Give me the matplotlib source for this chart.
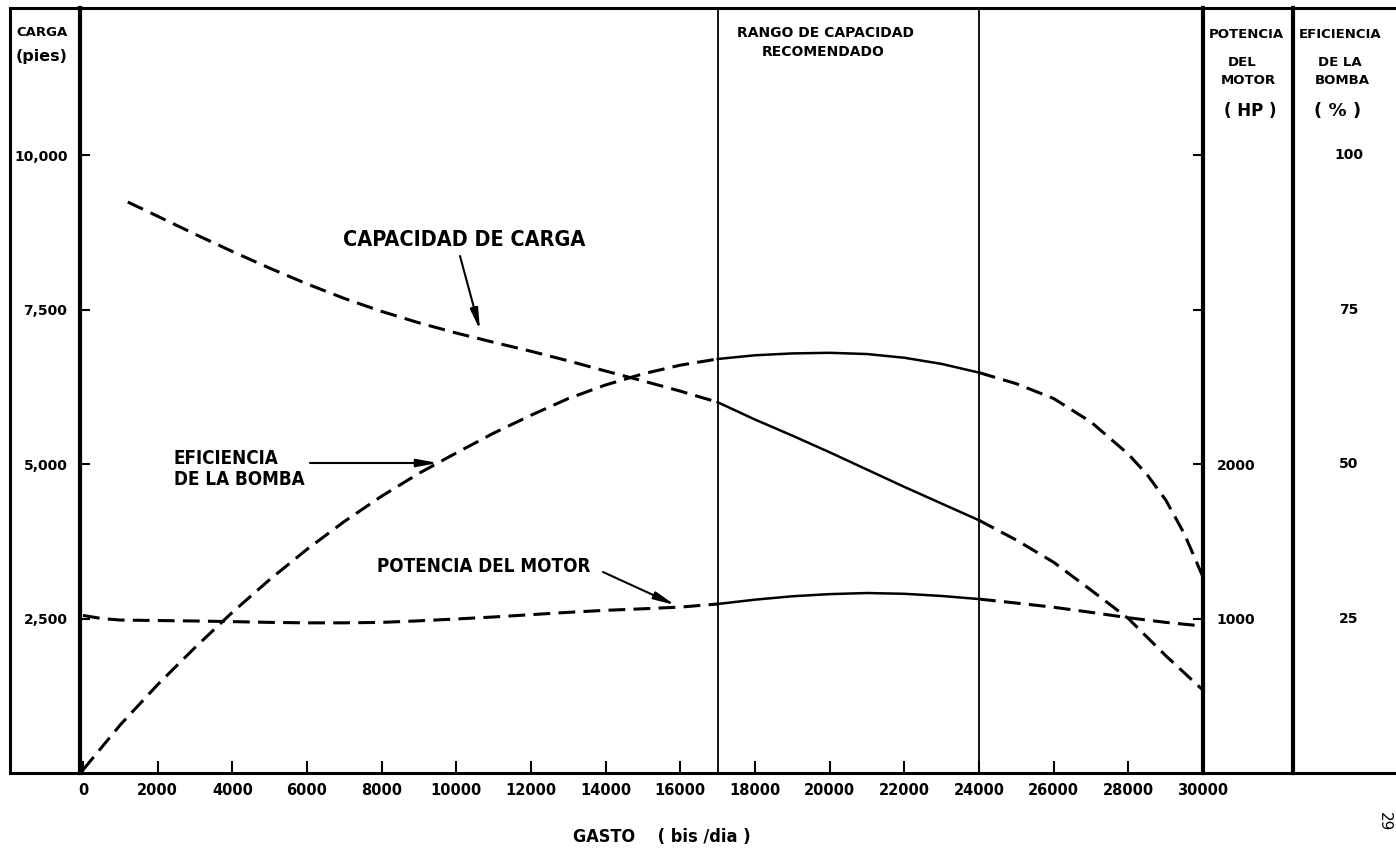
import matplotlib
matplotlib.use('Agg')
import matplotlib.pyplot as plt
import matplotlib.transforms as mtransforms
import numpy as np

plt.rcParams['font.family'] = ['DejaVu Sans']

# ---------------- data ----------------
gasto_carga = [1200, 2000, 3000, 4000, 5000, 6000, 7000, 8000, 9000, 10000, 11000,
               12000, 13000, 14000, 15000, 16000, 17000, 18000, 19000, 20000, 21000,
               22000, 23000, 24000, 25000, 26000, 27000, 28000, 29000, 29500, 30000]
carga_pies = [9240, 9010, 8720, 8440, 8170, 7915, 7680, 7470, 7285, 7120, 6970,
              6825, 6670, 6505, 6345, 6180, 6000, 5720, 5460, 5190, 4910,
              4630, 4360, 4090, 3770, 3410, 2960, 2500, 1900, 1620, 1340]

gasto_ef = [0, 1000, 2000, 3000, 4000, 5000, 6000, 7000, 8000, 9000, 10000, 11000,
            12000, 13000, 14000, 15000, 16000, 17000, 18000, 19000, 20000, 21000,
            22000, 23000, 24000, 25000, 26000, 27000, 28000, 28500, 29000, 29500, 30000]
eficiencia_pct = [0.5, 7.8, 14.3, 20.3, 26.0, 31.3, 36.2, 40.7, 44.8, 48.5, 51.8, 55.0,
                  57.9, 60.6, 62.8, 64.6, 66.0, 67.0, 67.6, 67.9, 68.0, 67.8,
                  67.2, 66.2, 64.8, 63.0, 60.6, 56.8, 51.6, 48.3, 44.2, 38.7, 31.7]

gasto_hp = [0, 500, 1000, 2000, 3000, 4000, 5000, 6000, 7000, 8000, 9000, 10000,
            11000, 12000, 13000, 14000, 15000, 16000, 17000, 18000, 19000, 20000,
            21000, 22000, 23000, 24000, 25000, 26000, 27000, 28000, 29000, 30000]
potencia_hp = [1020, 1000, 990, 987, 984, 980, 975, 972, 972, 975, 985, 997,
               1010, 1025, 1040, 1053, 1063, 1074, 1094, 1122, 1144, 1158,
               1165, 1160, 1146, 1126, 1100, 1073, 1040, 1005, 975, 951]

rango_recomendado = [17000, 24000]

xticks = list(range(0, 30001, 2000))
xtick_labels = [str(v) for v in xticks]
yticks_carga = [2500, 5000, 7500, 10000]
ytick_labels_carga = ['2,500', '5,000', '7,500', '10,000']
hp_ticks = [1000, 2000, 3000, 4000]
hp_labels = ['1000', '2000', '', '']
ef_ticks = [25, 50, 75, 100]
ef_labels = ['25', '50', '75', '100']

# ---------------- layout ----------------
W, H, DPI = 1396, 849, 100
fig = plt.figure(figsize=(W / DPI, H / DPI), dpi=DPI)
fig.patch.set_facecolor('white')

TOP, BOT = 8, 773


def fr(x0, y0, x1, y1):
    return [x0 / W, 1 - y1 / H, (x1 - x0) / W, (y1 - y0) / H]


def ftext(x, y, s, **kw):
    fig.text(x / W, 1 - y / H, s, **kw)


YMAX = 12380
XMIN, XMAX = -80, 30000

ax = fig.add_axes(fr(80, TOP, 1203, BOT))
ax.set_xlim(XMIN, XMAX)
ax.set_ylim(0, YMAX)

FRAME = 2.2
THICK = 3.0
for s in ['top', 'bottom']:
    ax.spines[s].set_linewidth(FRAME)
ax.spines['left'].set_linewidth(THICK)
ax.spines['right'].set_visible(False)

ax.set_xticks(xticks)
ax.set_xticklabels(xtick_labels, fontsize=10.5, fontweight='bold')
ax.set_yticks(yticks_carga)
ax.set_yticklabels(ytick_labels_carga, fontsize=10, fontweight='bold')
ax.tick_params(axis='x', direction='in', length=9, width=1.5, pad=7)
ax.tick_params(axis='y', direction='in', length=7, width=1.5, pad=9)
ax.tick_params(top=False, right=False)

# panels
axl = fig.add_axes(fr(10, TOP, 80, BOT))
axhp_p = fig.add_axes(fr(1203, TOP, 1293, BOT))
axef_p = fig.add_axes(fr(1293, TOP, 1396, BOT))
for a in (axl, axhp_p, axef_p):
    a.set_xticks([])
    a.set_yticks([])
    a.patch.set_alpha(0)
    for s in ['top', 'bottom']:
        a.spines[s].set_linewidth(FRAME)
    a.spines['left'].set_visible(False)
    a.spines['right'].set_visible(False)
axl.spines['left'].set_visible(True)
axl.spines['left'].set_linewidth(FRAME)
axhp_p.spines['right'].set_visible(True)
axhp_p.spines['right'].set_linewidth(THICK)

# twin axes
ax_hp = ax.twinx()
ax_hp.set_ylim(0, YMAX * 0.4)
ax_hp.set_xlim(XMIN, XMAX)
for s in ['top', 'bottom', 'left']:
    ax_hp.spines[s].set_visible(False)
ax_hp.spines['right'].set_linewidth(THICK)
ax_hp.set_yticks(hp_ticks)
ax_hp.set_yticklabels(hp_labels, fontsize=10, fontweight='bold')
ax_hp.tick_params(axis='y', direction='in', length=7, width=1.5, pad=10)

ax_ef = ax.twinx()
ax_ef.set_ylim(0, YMAX / 100)
ax_ef.set_xlim(XMIN, XMAX)
ax_ef.axis('off')

axef_p.set_ylim(0, YMAX / 100)
tr = mtransforms.blended_transform_factory(axef_p.transAxes, axef_p.transData)
for v, lab in zip(ef_ticks, ef_labels):
    axef_p.text(0.54, v, lab, transform=tr, ha='center', va='center',
                fontsize=10, fontweight='bold')

# ---------------- curves ----------------
DASH = (0, (5.5, 2.7))
LW_D, LW_S = 2.2, 1.8


def plot_split(a, xs, ys):
    xs = np.asarray(xs, dtype=float)
    ys = np.asarray(ys, dtype=float)
    lo, hi = rango_recomendado
    m1 = xs <= lo
    m2 = (xs >= lo) & (xs <= hi)
    m3 = xs >= hi
    a.plot(xs[m1], ys[m1], color='k', lw=LW_D, ls=DASH)
    a.plot(xs[m2], ys[m2], color='k', lw=LW_S, ls='-')
    a.plot(xs[m3], ys[m3], color='k', lw=LW_D, ls=DASH)


plot_split(ax, gasto_carga, carga_pies)
plot_split(ax_ef, gasto_ef, eficiencia_pct)
plot_split(ax_hp, gasto_hp, potencia_hp)

for xv in rango_recomendado:
    ax.axvline(xv, color='k', lw=1.3)

# ---------------- annotations ----------------
def px2data(px, py):
    return ((px - 83) / 1120 * 30000, (773 - py) / 765 * YMAX)


ARW = dict(arrowstyle='-|>,head_length=0.7,head_width=0.13', color='k', lw=1.5,
           mutation_scale=18, shrinkA=0, shrinkB=0)
LBL = dict(fontweight='bold', fontstretch='condensed')

ax.text(*px2data(343, 240), 'CAPACIDAD DE CARGA', fontsize=15.5, ha='left', va='center', **LBL)
ax.annotate('', xy=px2data(480, 330), xytext=px2data(460, 256), arrowprops=ARW)

ax.text(*px2data(174, 469), 'EFICIENCIA\nDE LA BOMBA', fontsize=13.5, ha='left', va='center',
        linespacing=1.15, **LBL)
ax.annotate('', xy=px2data(438, 463), xytext=px2data(310, 463), arrowprops=ARW)

ax.text(*px2data(377, 567), 'POTENCIA DEL MOTOR', fontsize=13.5, ha='left', va='center', **LBL)
ax.annotate('', xy=px2data(675, 605), xytext=px2data(603, 572), arrowprops=ARW)

ftext(737, 33, 'RANGO DE CAPACIDAD', fontsize=10, fontweight='bold', ha='left', va='center')
ftext(762, 52, 'RECOMENDADO', fontsize=10, fontweight='bold', ha='left', va='center')

# headers
ftext(42, 33, 'CARGA', fontsize=9.5, fontweight='bold', ha='center', va='center')
ftext(42, 57, '(pies)', fontsize=11.5, fontweight='bold', ha='center', va='center')

ftext(1246, 34, 'POTENCIA', fontsize=9.5, fontweight='bold', ha='center', va='center')
ftext(1242, 62, 'DEL', fontsize=9.5, fontweight='bold', ha='center', va='center')
ftext(1248, 80, 'MOTOR', fontsize=9.5, fontweight='bold', ha='center', va='center')
ftext(1250, 111, '( HP )', fontsize=12, fontweight='bold', ha='center', va='center')

ftext(1340, 34, 'EFICIENCIA', fontsize=9.5, fontweight='bold', ha='center', va='center')
ftext(1340, 62, 'DE LA', fontsize=9.5, fontweight='bold', ha='center', va='center')
ftext(1342, 80, 'BOMBA', fontsize=9.5, fontweight='bold', ha='center', va='center')
ftext(1338, 111, '( % )', fontsize=13, fontweight='bold', ha='center', va='center')

ftext(573, 837, 'GASTO    ( bis /dia )', fontsize=13, ha='left', va='center', **LBL)
ftext(1384, 822, '29', fontsize=11, rotation=270, ha='center', va='center')

fig.savefig('out.png', dpi=DPI)
